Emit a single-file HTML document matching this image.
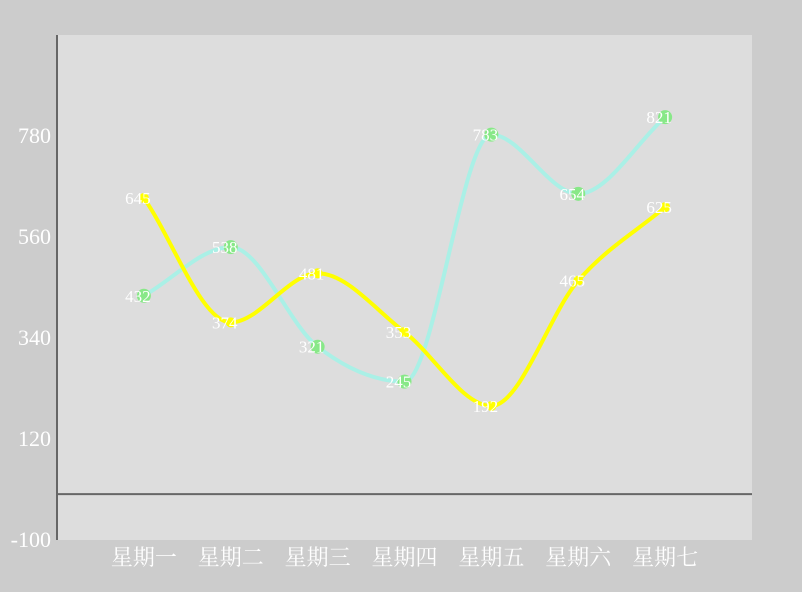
<!DOCTYPE html>
<html><head><meta charset="utf-8"><style>
html,body{margin:0;padding:0;background:#cccccc;}
svg{display:block;}
text{font-family:"Liberation Serif","Noto Serif CJK SC",serif;fill:#fff;}
</style></head><body>
<svg id="chart" width="802" height="592"></svg>
<script>
const categories=["星期一","星期二","星期三","星期四","星期五","星期六","星期七"];
const seriesA=[432,538,321,245,783,654,821];
const seriesB=[645,374,481,353,192,465,625];
const yTicks=[-100,120,340,560,780];
const yMin=-100,yMax=1000;
const L=57,R=752,T=35,B=540;
const NS="http://www.w3.org/2000/svg";
const svg=document.getElementById('chart');
function mk(tag,attrs,parent){const e=document.createElementNS(NS,tag);for(const k in attrs)e.setAttribute(k,attrs[k]);(parent||svg).appendChild(e);return e;}
const step=(R-L)/(categories.length+1);
const x=i=>L+step*(i+1);
const y=v=>B-(v-yMin)/(yMax-yMin)*(B-T);
let e=mk('rect',{x:L,y:T,width:R-L,height:B-T,fill:'#dddddd'});

e=mk('line',{x1:L,y1:T,x2:L,y2:B,stroke:'#666','stroke-width':2});

e=mk('line',{x1:L,y1:y(0),x2:R,y2:y(0),stroke:'#666','stroke-width':2});

yTicks.forEach(v=>{const t=mk('text',{x:51,y:y(v)+7,'text-anchor':'end','font-size':22});t.textContent=v;
});
categories.forEach((c,i)=>{const t=mk('text',{x:x(i),y:565,'text-anchor':'middle','font-size':22});t.textContent=c;
});
function path(vals){const p=vals.map((v,i)=>[x(i),y(v)]);const n=p.length;
const s=[];for(let i=0;i<n-1;i++)s.push((p[i+1][1]-p[i][1])/(p[i+1][0]-p[i][0]));
const m=[];m[0]=s[0];m[n-1]=s[n-2];
for(let i=1;i<n-1;i++){if(s[i-1]*s[i]<=0)m[i]=0;else{m[i]=(s[i-1]+s[i])/2;const a=Math.min(Math.abs(s[i-1]),Math.abs(s[i]))*3;if(Math.abs(m[i])>a)m[i]=Math.sign(m[i])*a;}}
let d=`M${p[0][0]},${p[0][1]}`;
for(let i=0;i<n-1;i++){const h=(p[i+1][0]-p[i][0])/3;
d+=` C${p[i][0]+h},${p[i][1]+m[i]*h} ${p[i+1][0]-h},${p[i+1][1]-m[i+1]*h} ${p[i+1][0]},${p[i+1][1]}`;}return d;}
function series(vals,color,dot,r,name){
const ln=mk('path',{d:path(vals),fill:'none',stroke:color,'stroke-width':4});

vals.forEach((v,i)=>{const c=mk('circle',{cx:x(i),cy:y(v),r:r,fill:dot});
});
vals.forEach((v,i)=>{const t=mk('text',{x:x(i)-6,y:y(v)+6,'text-anchor':'middle','font-size':17});t.textContent=v;
});}
series(seriesA,'#aaf0e6','#88e888',7,'series-a');
series(seriesB,'#ffff00','#ffff00',5,'series-b');
</script>
</body></html>
